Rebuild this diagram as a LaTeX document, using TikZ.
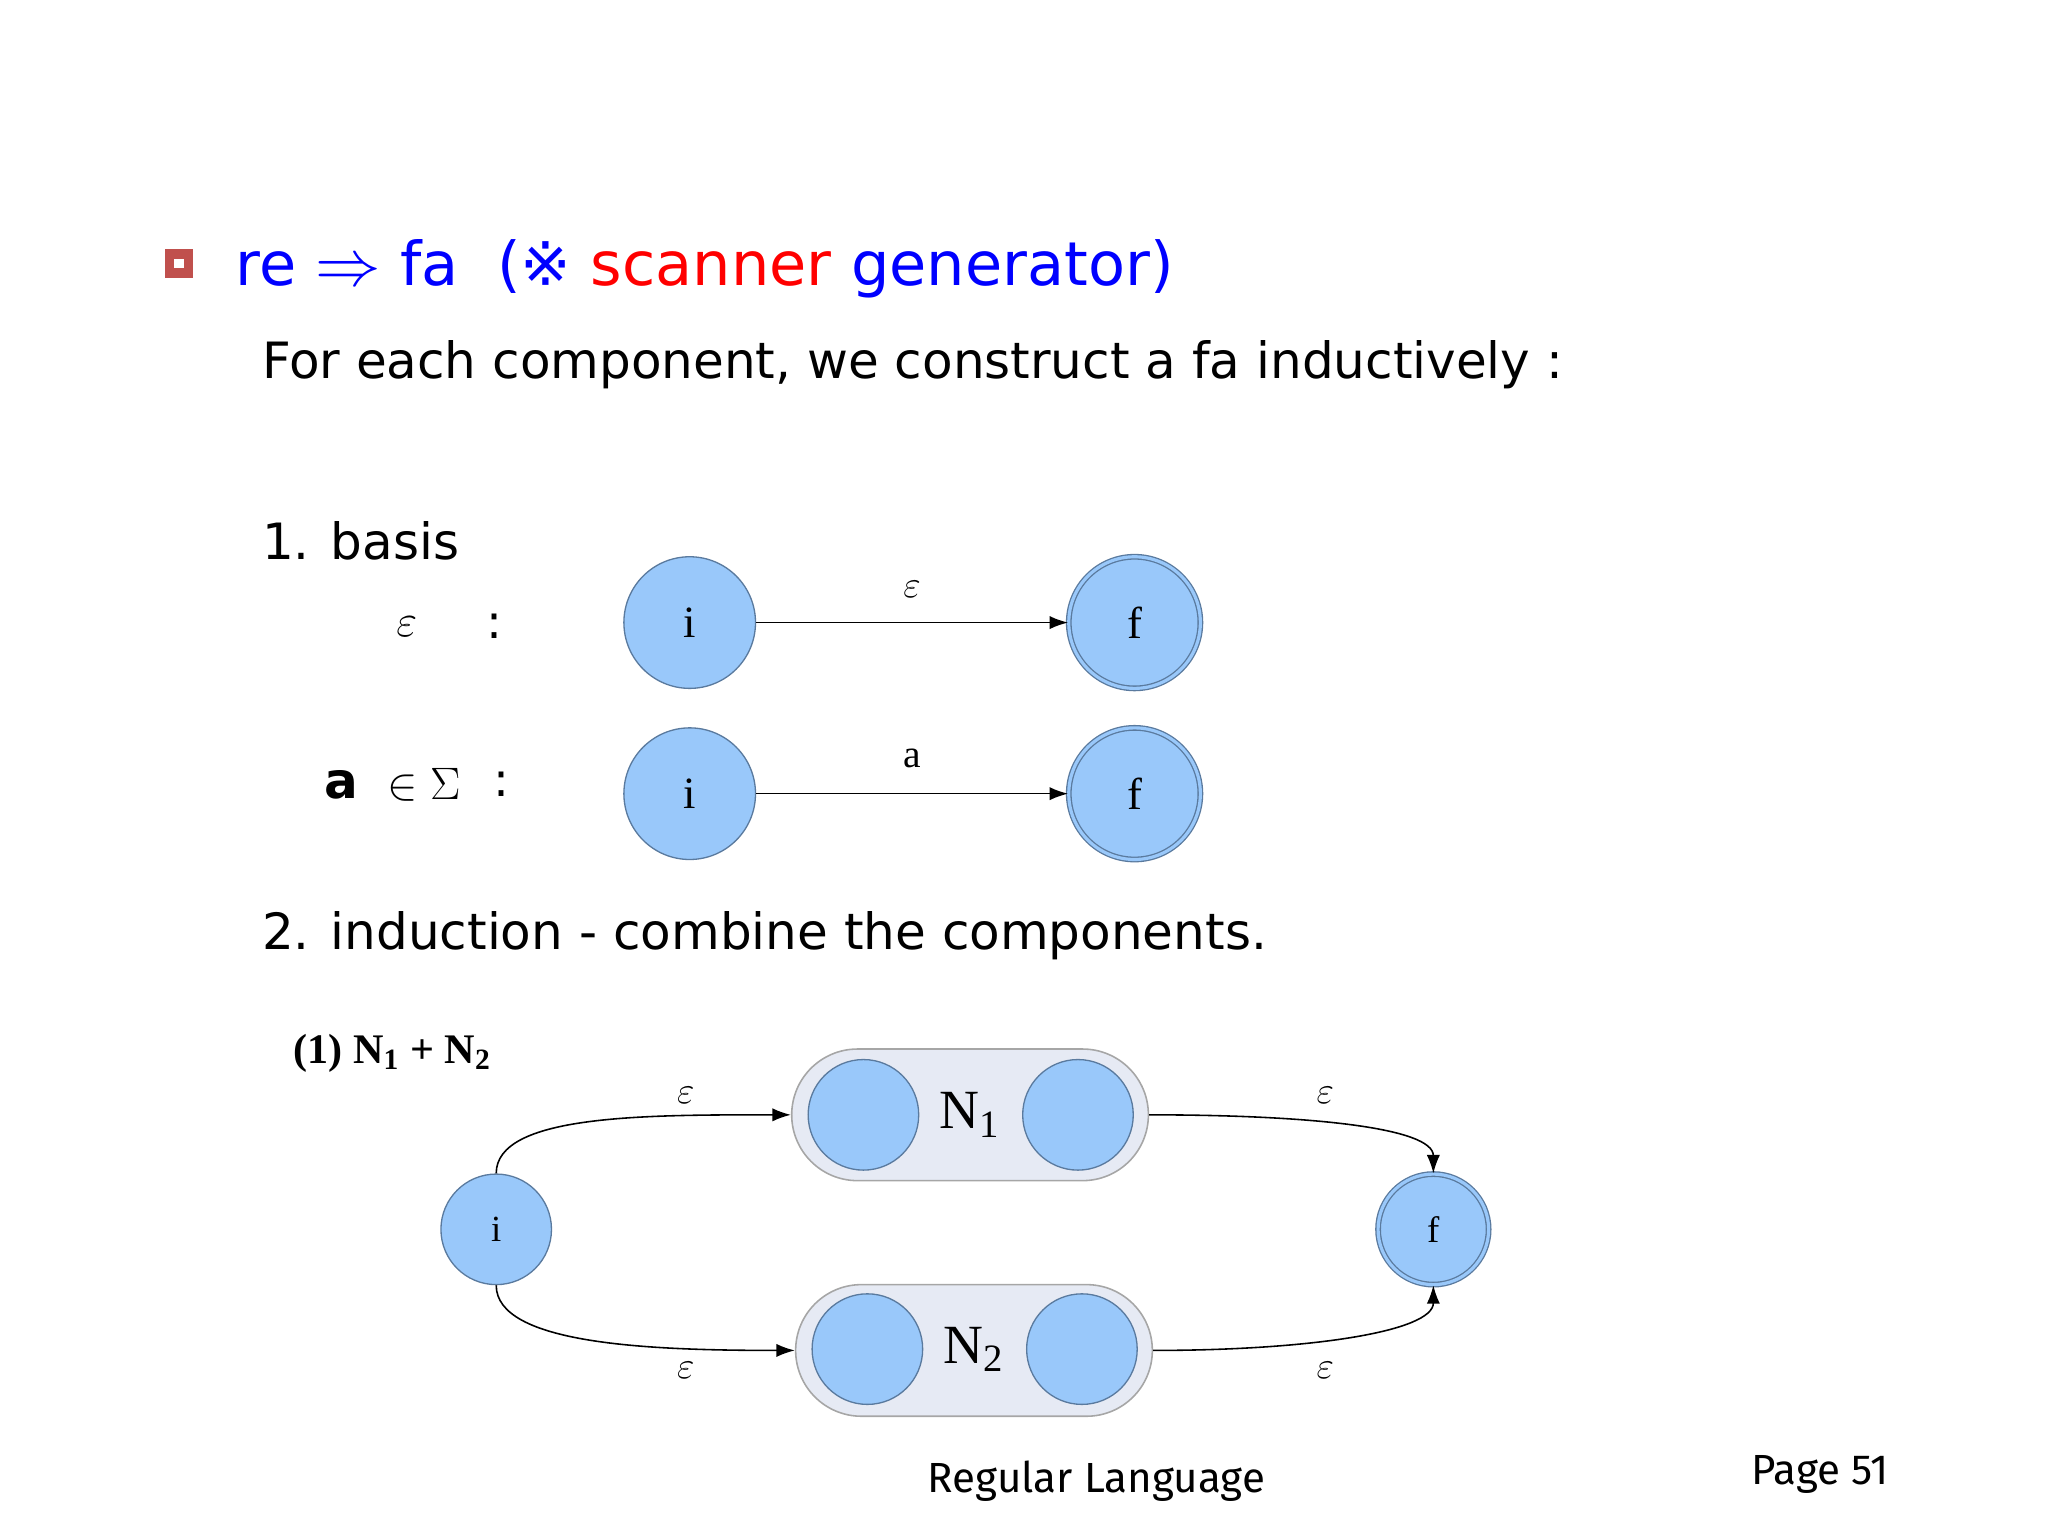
\documentclass[tikz,border=0pt]{standalone}
\usepackage{fontspec}
\setmainfont{Liberation Serif}
\newfontfamily\ssf{DejaVu Sans}
\newfontfamily\csf{Fira Sans}
\usetikzlibrary{arrows.meta}
\definecolor{cfill}{HTML}{99C8FA}
\definecolor{cline}{HTML}{5A7A9E}
\definecolor{bfill}{HTML}{E6EAF4}
\definecolor{bred}{HTML}{C0504D}
\begin{document}
\begin{tikzpicture}[x=0.5pt,y=-0.5pt,
  st/.style={circle,fill=cfill,draw=cline,line width=0.5pt,inner sep=0pt},
  big/.style={st,minimum size=50pt},
  sm/.style={st,minimum size=42pt},
  acc/.style={double=cfill,double distance=1.2pt},
  box/.style={rounded corners=25pt,fill=bfill,draw=gray!70,line width=0.6pt,minimum width=135.5pt,minimum height=50pt},
  ar/.style={-{Latex[length=7pt,width=5pt]},line width=0.6pt},
  lab/.style={font=\fontsize{15}{15}\selectfont},
  txt/.style={font=\ssf\fontsize{19}{19}\selectfont,anchor=west}]
\useasboundingbox (0,0) rectangle (1556,1167);
% bullet
\node[fill=bred,minimum size=11pt,inner sep=0pt] (bul) at (136,200) {};
\node[fill=white,minimum size=3.5pt,inner sep=0pt] (bul2) at (136,200) {};
\node[anchor=west,font=\ssf\fontsize{23}{23}\selectfont,text=blue] (title) at (172,204) {re $\Rightarrow$ fa \ (※ \textcolor{red}{scanner} generator)};
\node[txt] (t1) at (192,277) {For each component, we construct a fa inductively :};
\node[txt] (t2) at (192,411) {1. basis};
\node[lab,font=\fontsize{18}{18}\selectfont] (e1) at (309,476) {$\varepsilon$};
\node[font=\ssf\fontsize{18}{18}\selectfont] (c1) at (376,476) {:};
\node[font=\ssf\bfseries\fontsize{19}{19}\selectfont] (a1) at (259,596) {a};
\node[font=\fontsize{18}{18}\selectfont] (in1) at (322,596) {$\in\Sigma$};
\node[font=\ssf\fontsize{18}{18}\selectfont] (c2) at (381,596) {:};
\node[big] (i1) at (524,473) {\fontsize{17}{17}\selectfont i};
\node[big,acc] (f1) at (862,473) {\fontsize{17}{17}\selectfont f};
\draw[ar] (i1) -- node[above=6pt,lab]{$\varepsilon$} (f1);
\node[big] (i2) at (524,603) {\fontsize{17}{17}\selectfont i};
\node[big,acc] (f2) at (862,603) {\fontsize{17}{17}\selectfont f};
\draw[ar] (i2) -- node[above=6pt,lab]{a} (f2);
\node[txt] (t3) at (192,711) {2. induction - combine the components.};
\node[anchor=west,font=\bfseries\fontsize{16}{16}\selectfont] (t4) at (216,800) {(1) N\textsubscript{1} + N\textsubscript{2}};
\node[box] (N1) at (737,847) {};
\node[sm] (n1a) at (656,847) {};
\node[sm] (n1b) at (819,847) {};
\node[font=\fontsize{21}{21}\selectfont] (L1) at (737,847) {N\textsubscript{1}};
\node[box] (N2) at (740,1026) {};
\node[sm] (n2a) at (659,1025) {};
\node[sm] (n2b) at (822,1025) {};
\node[font=\fontsize{21}{21}\selectfont] (L2) at (740,1025) {N\textsubscript{2}};
\node[sm] (i) at (377,934) {\fontsize{14}{14}\selectfont i};
\node[sm,acc] (f) at (1089,934) {\fontsize{14}{14}\selectfont f};
\draw[ar] (i.north) .. controls +(0,-45) and +(-110,0) .. (N1.west);
\draw[ar] (N1.east) .. controls +(120,0) and +(0,-35) .. (f.north);
\draw[ar] (i.south) .. controls +(0,45) and +(-110,0) .. (N2.west);
\draw[ar] (N2.east) .. controls +(120,0) and +(0,35) .. (f.south);
\node[lab] (e2) at (521,832) {$\varepsilon$};
\node[lab] (e3) at (1007,832) {$\varepsilon$};
\node[lab] (e4) at (521,1041) {$\varepsilon$};
\node[lab] (e5) at (1007,1041) {$\varepsilon$};
\node[font=\csf\fontsize{16}{16}\selectfont] (ft) at (833,1125) {Regular Language};
\node[font=\csf\fontsize{16}{16}\selectfont] (pg) at (1383,1120) {Page 51};
\end{tikzpicture}
\end{document}
